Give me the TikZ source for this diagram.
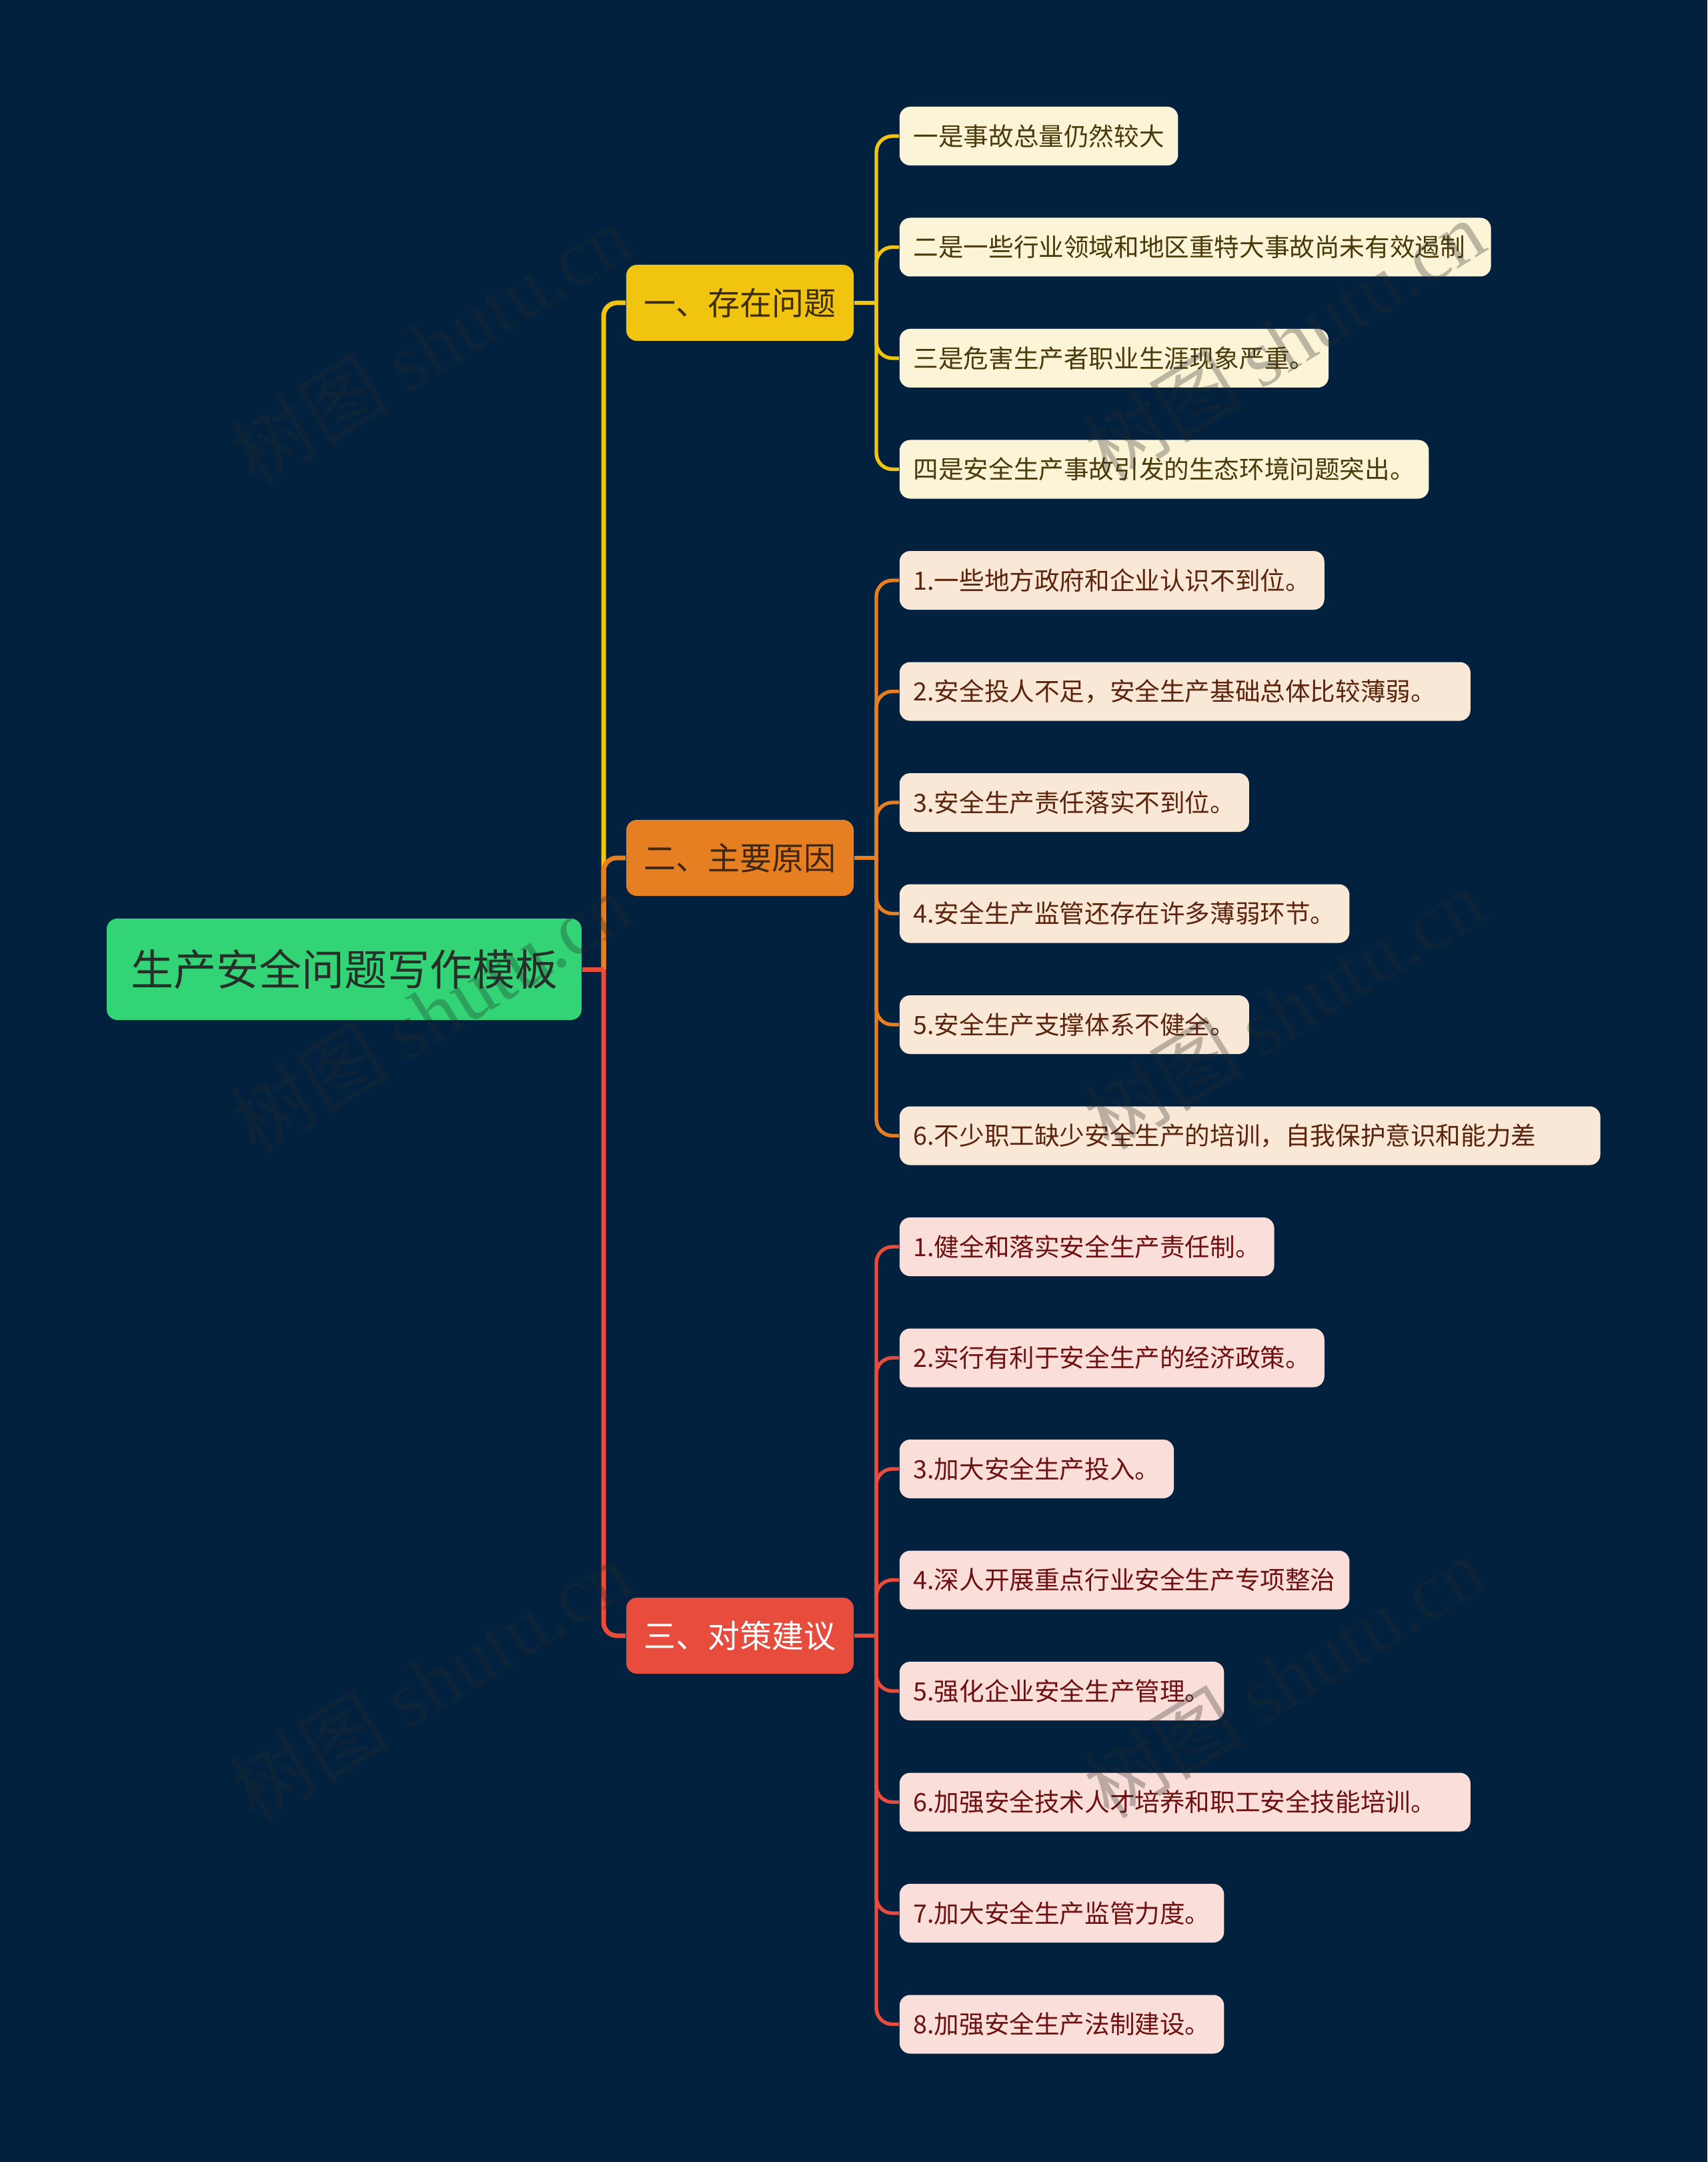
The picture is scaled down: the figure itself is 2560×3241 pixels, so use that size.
\documentclass[tikz,border=0pt]{standalone}
\usepackage{fontspec}
\setmainfont{Noto Sans CJK SC}
\newfontfamily\wmcjk{Noto Sans CJK SC}
\newfontfamily\wmlat{Liberation Serif}
\definecolor{bgc}{RGB}{1,33,63}
\definecolor{rootc}{RGB}{50,212,118}
\definecolor{roottxt}{RGB}{38,48,40}
\definecolor{yel}{RGB}{241,196,15}
\definecolor{ora}{RGB}{230,126,34}
\definecolor{redc}{RGB}{231,76,60}
\definecolor{yeltxt}{RGB}{62,46,8}
\definecolor{oratxt}{RGB}{62,40,20}
\definecolor{leafA}{RGB}{252,244,214}
\definecolor{leafB}{RGB}{250,232,214}
\definecolor{leafC}{RGB}{250,222,218}
\definecolor{leafAtxt}{RGB}{74,58,10}
\definecolor{leafBtxt}{RGB}{92,36,12}
\definecolor{leafCtxt}{RGB}{110,16,16}
\definecolor{wmc}{RGB}{40,40,40}
\newcommand{\padto}[2]{\hbox to #1{#2\hfil}}
\tikzset{
  rootbox/.style={rounded corners=4pt, fill=rootc, text=roottxt, minimum width=178pt, minimum height=38pt, inner sep=0pt, font=\fontsize{16}{18}\selectfont},
  branchbox/.style={rounded corners=4pt, minimum width=85.25pt, minimum height=28.5pt, inner sep=0pt, font=\fontsize{12}{14}\selectfont},
  leafbox/.style={rounded corners=4pt, anchor=west, minimum height=22pt, inner xsep=5.2pt, inner ysep=0pt, font=\fontsize{9.4}{11}\selectfont},
  la/.style={leafbox, fill=leafA, text=leafAtxt},
  lb/.style={leafbox, fill=leafB, text=leafBtxt},
  lc/.style={leafbox, fill=leafC, text=leafCtxt},
  mainline/.style={line width=1.75pt, rounded corners=5pt},
  leafline/.style={line width=1.35pt, rounded corners=6pt},
  wm/.style={text=wmc, opacity=0.3, rotate=31.6, font=\fontsize{30}{32}\selectfont}
}
\begin{document}
\begin{tikzpicture}[x=0.25pt, y=-0.25pt]
\fill[bgc] (0,0) rectangle (2560,3241);
\useasboundingbox (0,0) rectangle (2560,3241);

% root and branches
\node[rootbox] (root) at (516,1453) {生产安全问题写作模板};
\node[branchbox, fill=yel, text=yeltxt] (b1) at (1109.5,454) {一、存在问题};
\node[branchbox, fill=ora, text=oratxt] (b2) at (1109.5,1286) {二、主要原因};
\node[branchbox, fill=redc, text=white] (b3) at (1109.5,2452) {三、对策建议};

\coordinate (J) at (905,1453);
\coordinate (K1) at (1314,454);
\coordinate (K2) at (1314,1286);
\coordinate (K3) at (1314,2452);

% leaves
\node[la] (l1) at (1348,204) {一是事故总量仍然较大};
\node[la] (l2) at (1348,370.5) {\padto{211.3pt}{二是一些行业领域和地区重特大事故尚未有效遏制}};
\node[la] (l3) at (1348,537) {三是危害生产者职业生涯现象严重。};
\node[la] (l4) at (1348,703.5) {四是安全生产事故引发的生态环境问题突出。};

\node[lb] (l5) at (1348,870) {1.一些地方政府和企业认识不到位。};
\node[lb] (l6) at (1348,1036.5) {\padto{203.6pt}{2.安全投人不足，安全生产基础总体比较薄弱。}};
\node[lb] (l7) at (1348,1203) {3.安全生产责任落实不到位。};
\node[lb] (l8) at (1348,1369.5) {4.安全生产监管还存在许多薄弱环节。};
\node[lb] (l9) at (1348,1536) {5.安全生产支撑体系不健全。};
\node[lb] (l10) at (1348,1702.5) {\padto{252.3pt}{6.不少职工缺少安全生产的培训，自我保护意识和能力差}};

\node[lc] (l11) at (1348,1869) {1.健全和落实安全生产责任制。};
\node[lc] (l12) at (1348,2035.5) {2.实行有利于安全生产的经济政策。};
\node[lc] (l13) at (1348,2202) {3.加大安全生产投入。};
\node[lc] (l14) at (1348,2368.5) {4.深人开展重点行业安全生产专项整治};
\node[lc] (l15) at (1348,2535) {5.强化企业安全生产管理。};
\node[lc] (l16) at (1348,2701.5) {\padto{203.6pt}{6.加强安全技术人才培养和职工安全技能培训。}};
\node[lc] (l17) at (1348,2868) {7.加大安全生产监管力度。};
\node[lc] (l18) at (1348,3034.5) {8.加强安全生产法制建设。};

% main connectors
\draw[mainline, yel] (J) |- (b1.west);
\draw[mainline, ora] (J) |- (b2.west);
\draw[mainline, redc] (J) |- (b3.west);
\draw[mainline, redc] (root.east) -- (J);

% branch to leaf connectors
\draw[leafline, yel] (b1.east) -- (K1);
\foreach \n in {l1,l2,l3,l4} \draw[leafline, yel] (K1) |- (\n.west);
\draw[leafline, ora] (b2.east) -- (K2);
\foreach \n in {l5,l6,l7,l8,l9,l10} \draw[leafline, ora] (K2) |- (\n.west);
\draw[leafline, redc] (b3.east) -- (K3);
\foreach \n in {l11,l12,l13,l14,l15,l16,l17,l18} \draw[leafline, redc] (K3) |- (\n.west);

% watermarks
\node[wm] (w1) at (645,516) {{\wmcjk 树图} {\wmlat shutu.cn}};
\node[wm] (w2) at (1925,510) {{\wmcjk 树图} {\wmlat shutu.cn}};
\node[wm] (w3) at (645,1518) {{\wmcjk 树图} {\wmlat shutu.cn}};
\node[wm] (w4) at (1925,1512) {{\wmcjk 树图} {\wmlat shutu.cn}};
\node[wm] (w5) at (645,2520) {{\wmcjk 树图} {\wmlat shutu.cn}};
\node[wm] (w6) at (1925,2514) {{\wmcjk 树图} {\wmlat shutu.cn}};
\end{tikzpicture}
\end{document}
